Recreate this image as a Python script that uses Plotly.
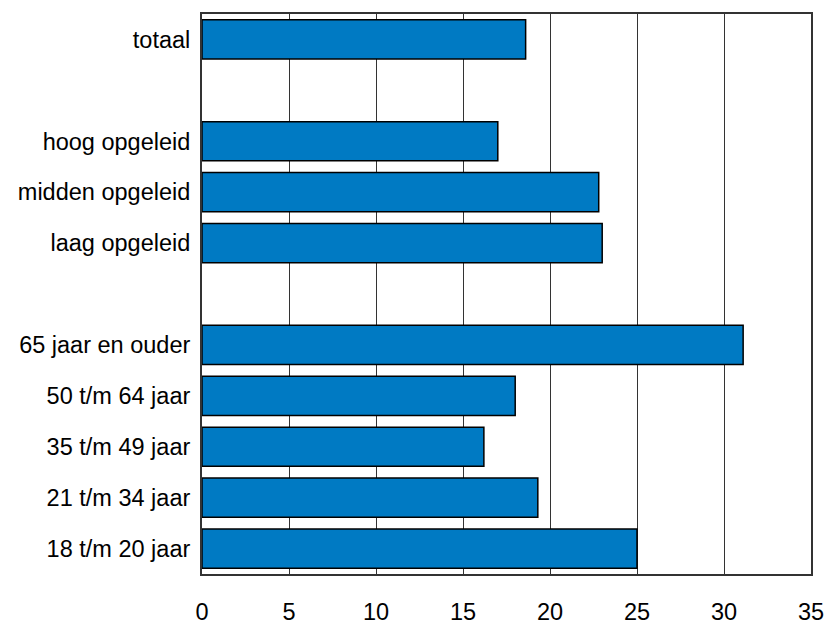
import plotly.graph_objects as go

# categories from bottom to top; blank entries are the gaps between groups
categories = [
    "18 t/m 20 jaar",
    "21 t/m 34 jaar",
    "35 t/m 49 jaar",
    "50 t/m 64 jaar",
    "65 jaar en ouder",
    " ",
    "laag opgeleid",
    "midden opgeleid",
    "hoog opgeleid",
    "  ",
    "totaal",
]
values = [25.0, 19.3, 16.2, 18.0, 31.1, None, 23.0, 22.8, 17.0, None, 18.6]
x_ticks = [0, 5, 10, 15, 20, 25, 30, 35]

fig = go.Figure()
fig.add_trace(go.Bar(
    y=categories,
    x=values,
    orientation="h",
    width=0.77,
    marker=dict(color="#007AC3", line=dict(color="black", width=1.5)),
))

fig.update_layout(
    width=828,
    height=626,
    margin=dict(l=202, r=17, t=14, b=52, autoexpand=False),
    plot_bgcolor="white",
    paper_bgcolor="white",
    font=dict(family="Liberation Sans, Arial, sans-serif", size=23.5, color="black"),
    showlegend=False,
)
fig.update_xaxes(
    range=[0, 35],
    tickvals=x_ticks,
    showgrid=True,
    gridcolor="#333333",
    gridwidth=1,
    zeroline=False,
    showline=True,
    linecolor="#333333",
    linewidth=2,
    mirror=True,
    ticks="",
    tickfont=dict(size=23.5),
    ticklabelstandoff=16,
    automargin=False,
)
fig.update_yaxes(
    type="category",
    categoryorder="array",
    categoryarray=categories,
    range=[-0.5, len(categories) - 0.5],
    showgrid=False,
    showline=True,
    linecolor="#333333",
    linewidth=2,
    mirror=True,
    ticks="",
    ticklabelstandoff=5,
    automargin=False,
)

# drop the page's default body margin so the figure fills the window
fig.write_html(
    "out.html",
    config={"displayModeBar": False},
    post_script="document.body.style.margin='0';",
)
